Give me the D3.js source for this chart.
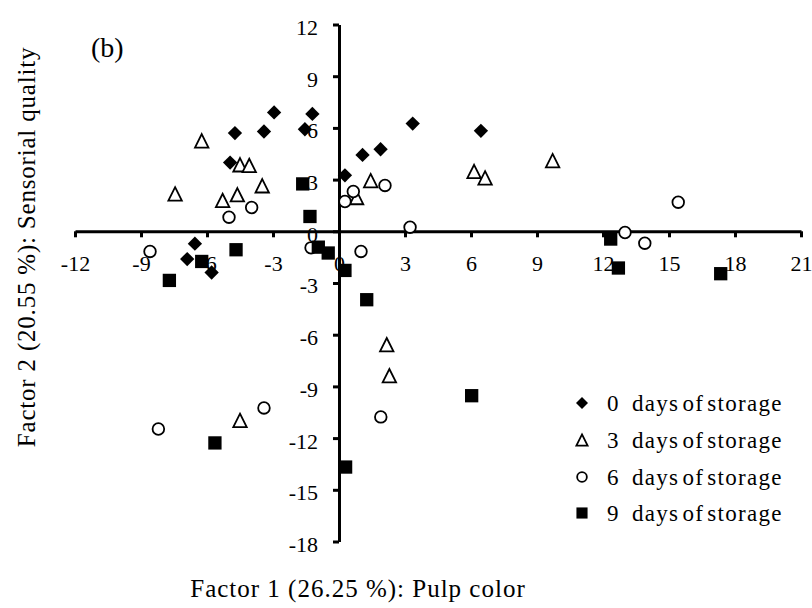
<!DOCTYPE html>
<html>
<head>
<meta charset="utf-8">
<script src="https://cdn.jsdelivr.net/npm/d3@7"></script>
<style>
  body { margin: 0; background: #fff; }
  text { font-family: "Liberation Serif", "Times New Roman", serif; fill: #000; }
</style>
</head>
<body>
<svg id="chart" width="812" height="608"></svg>
<script>
// values (factor 1, factor 2)
const seriesNames = ['0', '3', '6', '9'];

const day0X = [-4.73, -2.95, -3.41, -1.21, -1.55, -4.95, 0.27, 1.07, 1.89, 3.35, 6.45, -6.55, -6.9, -5.79];
const day0Y = [5.7, 6.9, 5.79, 6.81, 5.92, 3.99, 3.25, 4.43, 4.76, 6.25, 5.83, -0.72, -1.61, -2.39];

const day3X = [-6.24, -4.5, -4.08, -7.45, -5.29, -4.62, -3.49, 0.8, 1.44, 6.14, 6.64, 9.71, 2.17, 2.29, -4.5];
const day3Y = [5.25, 3.86, 3.82, 2.17, 1.79, 2.12, 2.64, 1.96, 2.94, 3.47, 3.1, 4.1, -6.58, -8.38, -10.97];

const day6X = [-5.0, -3.97, 0.65, 0.27, 2.09, 3.23, 1.0, -1.27, -8.59, 15.42, 13.0, 13.9, -3.41, 1.9, -8.21];
const day6Y = [0.82, 1.38, 2.31, 1.73, 2.66, 0.24, -1.17, -0.96, -1.17, 1.69, -0.07, -0.69, -10.25, -10.77, -11.47];

const day9X = [-1.65, -1.32, -0.94, -0.49, 0.27, 1.26, -6.24, -7.71, -4.68, 12.35, 12.7, 17.35, 6.03, 0.3, -5.64];
const day9Y = [2.75, 0.86, -0.92, -1.26, -2.27, -3.97, -1.75, -2.85, -1.07, -0.45, -2.13, -2.46, -9.54, -13.68, -12.28];

const xTicks = [-12, -9, -6, -3, 0, 3, 6, 9, 12, 15, 18, 21];
const yTicks = [-18, -15, -12, -9, -6, -3, 0, 3, 6, 9, 12];

const svg = d3.select('#chart');
const fontFam = '"Liberation Serif", "Times New Roman", serif';

const x = d3.scaleLinear().domain([-12, 21]).range([75, 801]);
const y = d3.scaleLinear().domain([-18, 12]).range([541.5, 24.5]);

// marker shapes
const diamond = {
  draw(ctx, size) {
    const h = Math.sqrt(size) / 2;
    ctx.moveTo(0, -h); ctx.lineTo(h, 0); ctx.lineTo(0, h); ctx.lineTo(-h, 0); ctx.closePath();
  }
};
const triangle = {
  draw(ctx, size) {
    const h = Math.sqrt(size) / 2;
    ctx.moveTo(0, -h); ctx.lineTo(h, h); ctx.lineTo(-h, h); ctx.closePath();
  }
};

const styles = [
  { type: diamond, size: 205, fill: '#000', stroke: 'none', sw: 0 },
  { type: triangle, size: 180, fill: '#fff', stroke: '#000', sw: 1.8 },
  { type: d3.symbolCircle, size: 106, fill: '#fff', stroke: '#000', sw: 1.8 },
  { type: d3.symbolSquare, size: 177, fill: '#000', stroke: 'none', sw: 0 }
];

const series = [
  day0X.map((d, i) => [d, day0Y[i]]),
  day3X.map((d, i) => [d, day3Y[i]]),
  day6X.map((d, i) => [d, day6Y[i]]),
  day9X.map((d, i) => [d, day9Y[i]])
];

// axes crossing at the origin
const xAxis = d3.axisBottom(x)
  .tickValues(xTicks)
  .tickSize(6)
  .tickSizeOuter(0)
  .tickFormat(d => String(d));

const gx = svg.append('g')
  .attr('transform', 'translate(0,' + y(0) + ')')
  .call(xAxis);
gx.attr('font-family', fontFam).attr('font-size', 22);
gx.select('.domain').attr('stroke', '#000').attr('stroke-width', 3);
gx.selectAll('.tick line').attr('stroke', '#000').attr('stroke-width', 3);
gx.selectAll('.tick text').attr('y', 40).attr('dy', 0).attr('fill', '#000');

const yAxis = d3.axisLeft(y)
  .tickValues(yTicks)
  .tickSize(6)
  .tickSizeOuter(0)
  .tickPadding(15)
  .tickFormat(d => String(d));

const gy = svg.append('g')
  .attr('transform', 'translate(' + x(0) + ',0)')
  .call(yAxis);
gy.attr('font-family', fontFam).attr('font-size', 22);
gy.select('.domain').attr('stroke', '#000').attr('stroke-width', 3);
gy.selectAll('.tick line').attr('stroke', '#000').attr('stroke-width', 3);
gy.selectAll('.tick text').attr('dy', '0.45em').attr('fill', '#000');

// points
series.forEach((pts, s) => {
  const st = styles[s];
  svg.append('g')
    .selectAll('path')
    .data(pts)
    .join('path')
    .attr('d', d3.symbol().type(st.type).size(st.size))
    .attr('transform', d => 'translate(' + x(d[0]) + ',' + y(d[1]) + ')')
    .attr('fill', st.fill)
    .attr('stroke', st.stroke)
    .attr('stroke-width', st.sw);
});

// legend
const legend = svg.append('g');
const legendY = [403, 440, 477, 513];
seriesNames.forEach((name, i) => {
  const st = styles[i];
  legend.append('path')
    .attr('d', d3.symbol().type(st.type).size(st.size * 0.7))
    .attr('transform', 'translate(582,' + legendY[i] + ')')
    .attr('fill', st.fill)
    .attr('stroke', st.stroke)
    .attr('stroke-width', st.sw);
  legend.append('text')
    .attr('x', 607)
    .attr('y', legendY[i] + 8)
    .attr('font-size', 23)
    .text(name);
  legend.append('text')
    .attr('x', 632)
    .attr('y', legendY[i] + 8)
    .attr('font-size', 23)
    .attr('letter-spacing', 1.3)
    .attr('word-spacing', -4)
    .text('days of storage');
});

// titles
svg.append('text')
  .attr('x', 358)
  .attr('y', 597)
  .attr('text-anchor', 'middle')
  .attr('font-size', 25)
  .attr('letter-spacing', 1)
  .text('Factor 1 (26.25 %): Pulp color');

svg.append('text')
  .attr('transform', 'translate(35,247) rotate(-90)')
  .attr('text-anchor', 'middle')
  .attr('font-size', 25)
  .attr('letter-spacing', 0.8)
  .text('Factor 2 (20.55 %): Sensorial quality');

svg.append('text')
  .attr('x', 91)
  .attr('y', 57)
  .attr('font-size', 28)
  .text('(b)');
</script>
</body>
</html>
